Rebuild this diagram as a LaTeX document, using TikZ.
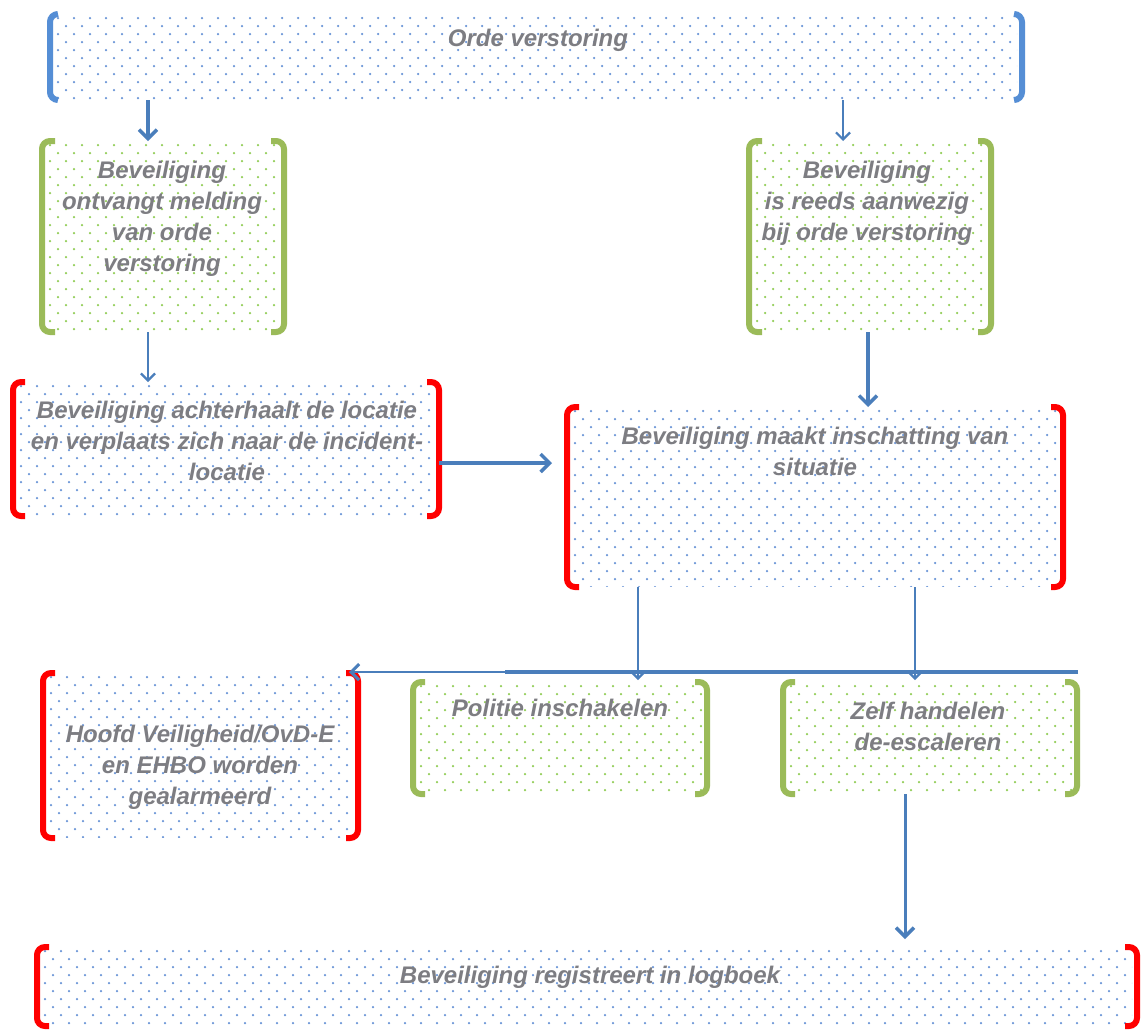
\documentclass[tikz,border=0pt]{standalone}
\usepackage{fontspec}
\setmainfont{Liberation Sans}
\usetikzlibrary{arrows.meta}
\definecolor{bblue}{RGB}{85,142,213}
\definecolor{bgreen}{RGB}{155,187,89}
\definecolor{bred}{RGB}{255,0,0}
\definecolor{arrblue}{RGB}{74,126,187}
\definecolor{dotblue}{RGB}{105,148,215}
\definecolor{dotgreen}{RGB}{145,205,85}
\definecolor{txtgray}{RGB}{125,125,130}

\newcommand{\dotgrid}[5]{% x1 y1 x2 y2 color
  \begin{scope}
    \clip ({#1},{#2}) rectangle ({#3},{#4});
    \pgfmathtruncatemacro{\nr}{((#4)-(#2))/8}
    \pgfmathtruncatemacro{\nc}{((#3)-(#1))/16}
    \foreach \j in {0,...,\nr}{
      \foreach \i in {0,...,\nc}{
        \pgfmathsetmacro{\xx}{(#1)+3+16*\i+8*mod(\j,2)}
        \pgfmathsetmacro{\yy}{(#2)+3+8*\j}
        \fill[#5] (\xx,\yy) circle (1.25pt);
      }
    }
  \end{scope}
}
% name x1 y1 x2 y2 bracketcolor dotcolor hook
\newcommand{\bbox}[8]{%
  \node[boxnode, minimum width={((#4)-(#2))*1pt}, minimum height={((#5)-(#3))*1pt}]
    (#1) at ({((#2)+(#4))/2},{((#3)+(#5))/2}) {};
  \dotgrid{(#2)+5}{(#3)+1}{(#4)-5}{(#5)-1}{#7}
  \draw[bracket, #6] ([xshift=#8pt]#1.north west) -- (#1.north west) -- (#1.south west) -- ([xshift=#8pt]#1.south west);
  \draw[bracket, #6] ([xshift=-#8pt]#1.north east) -- (#1.north east) -- (#1.south east) -- ([xshift=-#8pt]#1.south east);
}

\begin{document}
\begin{tikzpicture}[x=1pt,y=-1pt,
  boxnode/.style={inner sep=0pt, outer sep=0pt, draw=none, rectangle},
  bracket/.style={line width=6pt, rounded corners=8pt, line cap=butt},
  txt/.style={text=txtgray, font=\fontsize{24}{31}\selectfont\bfseries\itshape, align=center, inner sep=0pt},
  thickarr/.style={draw=arrblue, line width=3.5pt, -{Straight Barb[length=9pt,width=18pt,line width=3.5pt]}},
  thinarr/.style={draw=arrblue, line width=1.6pt, -{Straight Barb[length=7pt,width=14pt,line width=2.2pt]}},
  thickline/.style={draw=arrblue, line width=3.5pt}
]
\useasboundingbox (0,0) rectangle (1142,1029);
\fill[white] (0,0) rectangle (1142,1029);

\bbox{b1}{50}{14}{1022}{100}{bblue}{dotblue}{8}
\bbox{b2}{42}{141}{284}{332}{bgreen}{dotgreen}{13}
\bbox{b3}{749}{141}{991}{332}{bgreen}{dotgreen}{13}
\bbox{b4}{13}{382}{439}{516}{bred}{dotblue}{12}
\bbox{b5}{567}{407}{1063}{587}{bred}{dotblue}{12}
\bbox{b6}{43}{673}{358}{838}{bred}{dotblue}{12}
\bbox{b7}{413}{682}{707}{794}{bgreen}{dotgreen}{12}
\bbox{b8}{783}{682}{1077}{794}{bgreen}{dotgreen}{12}
\bbox{b9}{37}{947}{1137}{1026}{bred}{dotblue}{12}

\node[txt] (t1) at (538,40) {Orde verstoring};
\node[txt] (t2) at (162,219) {Beveiliging\\ontvangt melding\\van orde\\verstoring};
\node[txt] (t3) at (867,203) {Beveiliging\\is reeds aanwezig\\bij orde verstoring};
\node[txt] (t4) at (227,441) {Beveiliging achterhaalt de locatie\\en verplaats zich naar de incident-\\locatie};
\node[txt] (t5) at (815,451) {Beveiliging maakt inschatting van\\situatie};
\node[txt] (t6) at (200,767) {Hoofd Veiligheid/OvD-E\\en EHBO worden\\gealarmeerd};
\node[txt] (t7) at (560,708) {Politie inschakelen};
\node[txt] (t8) at (928,726) {Zelf handelen\\de-escaleren};
\node[txt] (t9) at (590,977) {Beveiliging registreert in logboek};

\coordinate (c1) at (148,0);
\coordinate (c3) at (843,0);
\coordinate (c4) at (868,0);
\coordinate (c5) at (0,463);
\coordinate (c6) at (638,0);
\coordinate (c7) at (915,0);
\coordinate (c9) at (905,0);
\coordinate (hr) at (1078,672);
\coordinate (hm) at (505,672);

\draw[thickarr] (b1.south -| c1) -- (b2.north -| c1);
\draw[thinarr] (b2.south -| c1) -- (b4.north -| c1);
\draw[thinarr] (b1.south -| c3) -- (b3.north -| c3);
\draw[thickarr] (b3.south -| c4) -- (b5.north -| c4);
\draw[thickarr, shorten >=15pt] (b4.east |- c5) -- (b5.west |- c5);
\draw[thinarr, shorten >=2pt] (b5.south -| c6) -- (b7.north -| c6);
\draw[thinarr, shorten >=2pt] (b5.south -| c7) -- (b8.north -| c7);
\draw[thickline] (hr) -- (hm);
\draw[thinarr, -{Straight Barb[length=8pt,width=16pt,line width=3pt]}, shorten >=-9pt] (hm) -- (b6.north east |- hm);
\draw[thickarr, line width=3pt, shorten >=8pt] (b8.south -| c9) -- (b9.north -| c9);
\end{tikzpicture}
\end{document}
